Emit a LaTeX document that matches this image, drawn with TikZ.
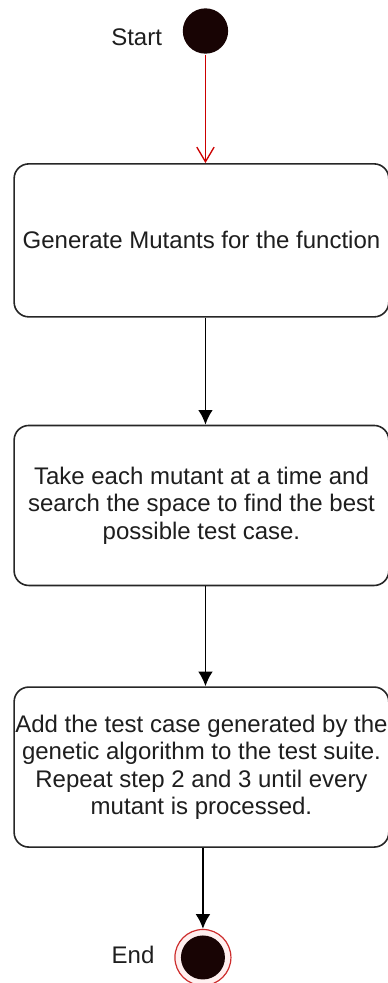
\documentclass[tikz,border=0pt]{standalone}
\usepackage{fontspec}
\setmainfont{Liberation Sans}
\usepackage{tikz}
\usetikzlibrary{arrows.meta,positioning}

\definecolor{dotcol}{RGB}{24,4,4}
\definecolor{endring}{RGB}{205,45,45}
\definecolor{txtcol}{RGB}{30,30,30}

\begin{document}
\begin{tikzpicture}[->,>={Latex[length=11pt,width=11pt]},line width=1.3pt,
	node distance=80pt,font=\fontsize{18}{20.6}\selectfont,text=txtcol]
	\tikzstyle{action}=[rectangle,rounded corners=11pt,draw=black!85,fill=white,
		line width=1.2pt,minimum width=281pt,minimum height=120pt,align=center,
		inner sep=0pt]
	\tikzstyle{startdot}=[circle,fill=dotcol,draw=none,minimum size=34pt,inner sep=0pt]
	\tikzstyle{enddot}=[circle,draw=endring,line width=0.9pt,fill=red!6,
		minimum size=42pt,inner sep=0pt,
		path picture={\fill[dotcol] (path picture bounding box.center) circle (16.5pt);}]

	\useasboundingbox (0,0) rectangle (291pt,-737.25pt);

	\node[startdot] (start) at (154.1pt,-23.25pt) {};
	\node (startlbl) [left=11pt of start,yshift=-5pt] {Start};
	\node[action,minimum height=114.75pt] (gen) [below=81.4pt of start,xshift=-3pt]
		{Generate Mutants for the function};
	\node[action] (search) [below=80.25pt of gen]
		{Take each mutant at a time and\\search the space to find the best\\possible test case.};
	\node[action] (add) [below=75pt of search]
		{Add the test case generated by the\\genetic algorithm to the test suite.\\Repeat step 2 and 3 until every\\mutant is processed.};
	\node[enddot] (end) [below=60.75pt of add,xshift=1.1pt] {};
	\node (endlbl) [left=11pt of end,yshift=2pt] {End};

	\draw[red!80!black,line width=1pt,-{Straight Barb[length=11pt,width=13pt]}]
		(start) -- (start |- gen.north);
	\draw (gen.south -| start) -- (search.north -| start);
	\draw (search.south -| start) -- (add.north -| start);
	\draw (add.south -| end) -- (end);
\end{tikzpicture}
\end{document}
